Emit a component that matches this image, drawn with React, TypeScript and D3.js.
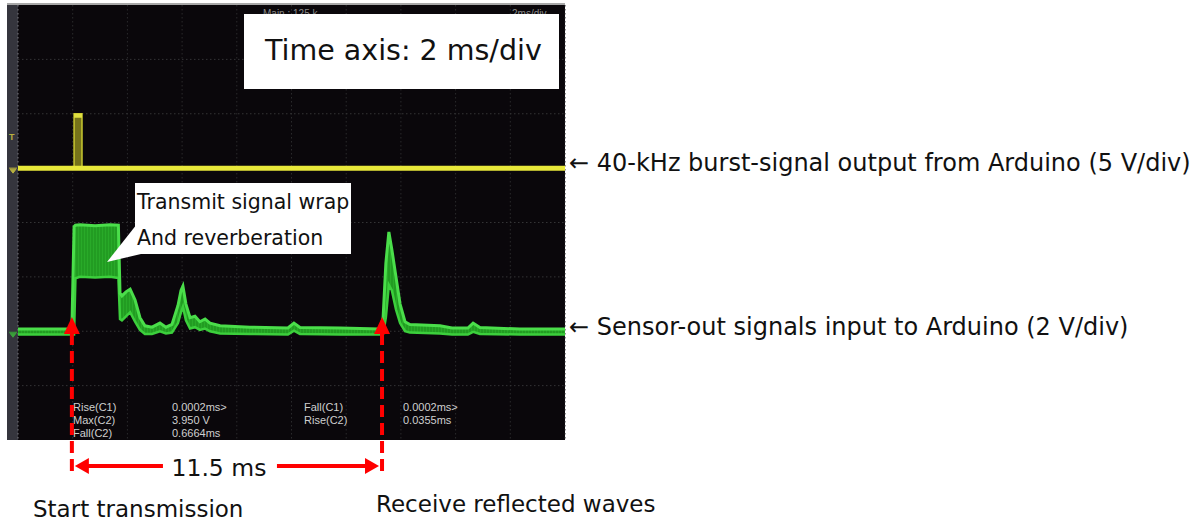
import React from 'react';
import * as d3 from 'd3';

const W = 1202;
const H = 524;

// Oscilloscope time grid (ms), 2 ms/div, 10 divisions
const timeTicks = [0, 2, 4, 6, 8, 10, 12, 14, 16, 18, 20];
// Vertical grid (divisions)
const divTicks = [-4, -3, -2, -1, 0, 1, 2, 3, 4];

// Channel 1 (yellow): 40 kHz burst output, 5 V/div, ground at +1 div
const ch1Time = [0, 2.05, 2.05, 2.34, 2.34, 20];
const ch1Volt = [0, 0, 5, 5, 0, 0];

// Channel 2 (green): sensor output envelope, 2 V/div, ground at -2 div
const ch2Time = [0, 1.97, 2.05, 2.10, 2.27, 2.82, 3.36, 3.67, 3.73, 3.80, 3.95, 4.10, 4.28, 4.46, 4.64, 4.90, 5.19, 5.41, 5.63, 5.85, 5.96, 6.03, 6.14, 6.29, 6.47, 6.65, 6.84, 7.02, 7.39, 8.48, 9.87, 10.09, 10.31, 11.77, 13.24, 13.35, 13.45, 13.56, 13.67, 13.82, 13.97, 14.15, 14.33, 15.43, 15.87, 16.45, 16.64, 16.89, 18.35, 20];
const ch2High = [0.08, 0.08, 3.85, 3.90, 3.92, 3.88, 3.92, 3.90, 1.40, 1.30, 1.45, 1.55, 1.15, 0.50, 0.20, 0.15, 0.30, 0.15, 0.25, 0.95, 1.50, 1.66, 1.00, 0.50, 0.55, 0.35, 0.45, 0.30, 0.20, 0.15, 0.12, 0.30, 0.14, 0.12, 0.08, 0.50, 2.50, 3.65, 3.00, 2.00, 1.00, 0.35, 0.25, 0.20, 0.12, 0.12, 0.30, 0.14, 0.08, 0.08];
const ch2Low = [-0.12, -0.12, -0.12, 1.95, 2.00, 1.98, 2.00, 1.96, 0.45, 0.40, 0.55, 0.70, 0.35, 0.05, -0.10, -0.10, 0.00, -0.08, -0.05, 0.30, 0.70, 0.90, 0.40, 0.10, 0.15, 0.05, 0.10, 0.00, -0.08, -0.10, -0.12, 0.02, -0.10, -0.12, -0.12, -0.10, 0.50, 1.70, 1.50, 0.80, 0.30, 0.00, -0.05, -0.08, -0.12, -0.12, -0.02, -0.10, -0.12, -0.12];

// Measurement readout
const measNames1 = ['Rise(C1)', 'Max(C2)', 'Fall(C2)'];
const measValues1 = ['0.0002ms>', '3.950 V', '0.6664ms'];
const measNames2 = ['Fall(C1)', 'Rise(C2)'];
const measValues2 = ['0.0002ms>', '0.0355ms'];

// Annotations
const markerTimes = [1.97, 13.31];
const intervalLabel = '11.5 ms';
const timeAxisLabel = 'Time axis: 2 ms/div';
const calloutLines = ['Transmit signal wrap', 'And reverberation'];
const ch1Label = '\u2190 40-kHz burst-signal output from Arduino (5 V/div)';
const ch2Label = '\u2190 Sensor-out signals input to Arduino (2 V/div)';
const startLabel = 'Start transmission';
const receiveLabel = 'Receive reflected waves';

export default function App() {
  const x = d3.scaleLinear().domain([0, 20]).range([18, 565]);
  const yDiv = d3.scaleLinear().domain([-4, 4]).range([440, 5]);
  const ch1Y = (v: number) => yDiv(1 + v / 5);
  const ch2Y = (v: number) => yDiv(-2 + v / 2);

  const ch2Data = ch2Time.map((t, i) => ({ t, hi: ch2High[i], lo: ch2Low[i] }));
  const area2 = d3
    .area<{ t: number; hi: number; lo: number }>()
    .x((d) => x(d.t))
    .y0((d) => ch2Y(d.lo))
    .y1((d) => ch2Y(d.hi))
    .curve(d3.curveLinear);
  const hiLine = d3
    .line<{ t: number; hi: number; lo: number }>()
    .x((d) => x(d.t))
    .y((d) => ch2Y(d.hi));
  const loLine = d3
    .line<{ t: number; hi: number; lo: number }>()
    .x((d) => x(d.t))
    .y((d) => ch2Y(d.lo));

  const ch1Data = ch1Time.map((t, i) => ({ t, v: ch1Volt[i] }));
  const line1 = d3
    .line<{ t: number; v: number }>()
    .x((d) => x(d.t))
    .y((d) => ch1Y(d.v));
  const area1 = d3
    .area<{ t: number; v: number }>()
    .x((d) => x(d.t))
    .y0(() => ch1Y(0))
    .y1((d) => ch1Y(d.v));
  const pulseTop = ch1Data.filter((d) => d.v > 0);
  const pulseStart = pulseTop[0].t;
  const pulseEnd = pulseTop[pulseTop.length - 1].t;
  const pulseV = pulseTop[0].v;

  const xs = markerTimes.map((t) => x(t));
  const arrowY = 466;
  const red = '#ff0000';
  const midX = (xs[0] + xs[1]) / 2 - 8;

  return (
    <svg
      width={W}
      height={H}
      style={{ position: 'absolute', left: 0, top: 0, background: '#ffffff' }}
      fontFamily="DejaVu Sans"
    >
      <defs>
        <pattern id="burst" width="3" height="4" patternUnits="userSpaceOnUse">
          <rect width="3" height="4" fill="#229c22" />
          <rect width="1" height="4" fill="#29aa29" />
        </pattern>
      </defs>
      {/* scope screen */}
      <rect x={7} y={3} width={558} height={2} fill="#a8a8a8" />
      <rect x={7} y={5} width={558} height={435} fill="#0a070b" />
      <rect x={7} y={5} width={11} height={435} fill="#35353d" />

      {/* grid */}
      {timeTicks.map((t) => (
        <line
          key={'v' + t}
          x1={x(t)}
          x2={x(t)}
          y1={5}
          y2={440}
          stroke={t === 0 ? '#7a7a80' : '#2a2a2c'}
          strokeWidth={1}
          strokeDasharray="1.5 2.5"
        />
      ))}
      {divTicks
        .filter((d) => d > -4 && d < 4)
        .map((d) => (
          <line
            key={'h' + d}
            x1={18}
            x2={565}
            y1={yDiv(d)}
            y2={yDiv(d)}
            stroke="#343436"
            strokeWidth={1}
            strokeDasharray="1.5 2.5"
          />
        ))}

      {/* top hidden scope labels */}
      <text x={263} y={17} fontSize={10} fill="#8a8a8a" fontFamily="Liberation Sans">Main : 125 k</text>
      <text x={512} y={17} fontSize={10} fill="#8a8a8a" fontFamily="Liberation Sans">2ms/div</text>

      {/* left strip markers */}
      <text x={9} y={140} fontSize={9} fill="#b8b040" fontFamily="Liberation Sans" fontWeight="bold">T</text>
      <path d={`M9,${ch1Y(0)} h8 M10,${ch1Y(0) + 1} l3,4 l3,-4 z`} stroke="#b8b040" fill="#b8b040" strokeWidth={1} />
      <path d={`M9,${ch2Y(0) + 1} h8 M10,${ch2Y(0) + 2} l3,4 l3,-4 z`} stroke="#3aa03a" fill="#3aa03a" strokeWidth={1} />

      {/* channel 2 (green) */}
      <path d={area2(ch2Data) || ''} fill="url(#burst)" />
      <path d={loLine(ch2Data) || ''} fill="none" stroke="#3ccf3c" strokeWidth={2.5} />
      <path d={hiLine(ch2Data) || ''} fill="none" stroke="#4ade4a" strokeWidth={3} />

      {/* channel 1 (yellow) */}
      <path d={area1(ch1Data) || ''} fill="#75731a" />
      <path d={line1(ch1Data) || ''} fill="none" stroke="#c9c830" strokeWidth={1.5} />
      <line x1={x(0)} x2={x(20)} y1={ch1Y(0)} y2={ch1Y(0)} stroke="#e8e83a" strokeWidth={5} />
      <line x1={x(pulseStart)} x2={x(pulseEnd)} y1={ch1Y(pulseV) + 2} y2={ch1Y(pulseV) + 2} stroke="#e0e040" strokeWidth={4} />

      {/* measurement readout */}
      {measNames1.map((s, i) => (
        <text key={'n1' + i} x={73} y={411 + i * 13} fontSize={11} fill="#cfcfcf" fontFamily="Liberation Sans">{s}</text>
      ))}
      {measValues1.map((s, i) => (
        <text key={'v1' + i} x={172} y={411 + i * 13} fontSize={11} fill="#cfcfcf" fontFamily="Liberation Sans">{s}</text>
      ))}
      {measNames2.map((s, i) => (
        <text key={'n2' + i} x={304} y={411 + i * 13} fontSize={11} fill="#cfcfcf" fontFamily="Liberation Sans">{s}</text>
      ))}
      {measValues2.map((s, i) => (
        <text key={'v2' + i} x={403} y={411 + i * 13} fontSize={11} fill="#cfcfcf" fontFamily="Liberation Sans">{s}</text>
      ))}

      {/* time axis box */}
      <rect x={244} y={14} width={315} height={75} fill="#ffffff" />
      <text x={265} y={60} fontSize={28.5} fill="#111">{timeAxisLabel}</text>

      {/* callout */}
      <polygon points="137,224 107,262 141,254" fill="#ffffff" />
      <rect x={135} y={183} width={216} height={71} fill="#ffffff" />
      <text x={137} y={209} fontSize={20.5} fill="#111">{calloutLines[0]}</text>
      <text x={137} y={245} fontSize={20.5} fill="#111">{calloutLines[1]}</text>

      {/* red markers */}
      {xs.map((xx, i) => (
        <g key={'m' + i}>
          <line x1={xx} x2={xx} y1={333} y2={472} stroke={red} strokeWidth={4} strokeDasharray="12 6" />
          <polygon points={`${xx},${317} ${xx - 8},${334} ${xx + 8},${334}`} fill={red} />
        </g>
      ))}
      <line x1={xs[0] + 12} x2={midX - 56} y1={arrowY} y2={arrowY} stroke={red} strokeWidth={4} />
      <line x1={midX + 58} x2={xs[1] - 12} y1={arrowY} y2={arrowY} stroke={red} strokeWidth={4} />
      <polygon points={`${xs[0] + 3},${arrowY} ${xs[0] + 17},${arrowY - 8} ${xs[0] + 17},${arrowY + 8}`} fill={red} />
      <polygon points={`${xs[1] - 3},${arrowY} ${xs[1] - 17},${arrowY - 8} ${xs[1] - 17},${arrowY + 8}`} fill={red} />
      <text x={midX} y={476} fontSize={23.5} fill="#111" textAnchor="middle">{intervalLabel}</text>

      {/* right labels */}
      <text x={569} y={171} fontSize={24} fill="#111">{ch1Label}</text>
      <text x={569} y={335} fontSize={24} fill="#111">{ch2Label}</text>

      {/* bottom labels */}
      <text x={33} y={517} fontSize={23} fill="#111">{startLabel}</text>
      <text x={376} y={512} fontSize={23} fill="#111">{receiveLabel}</text>
    </svg>
  );
}
